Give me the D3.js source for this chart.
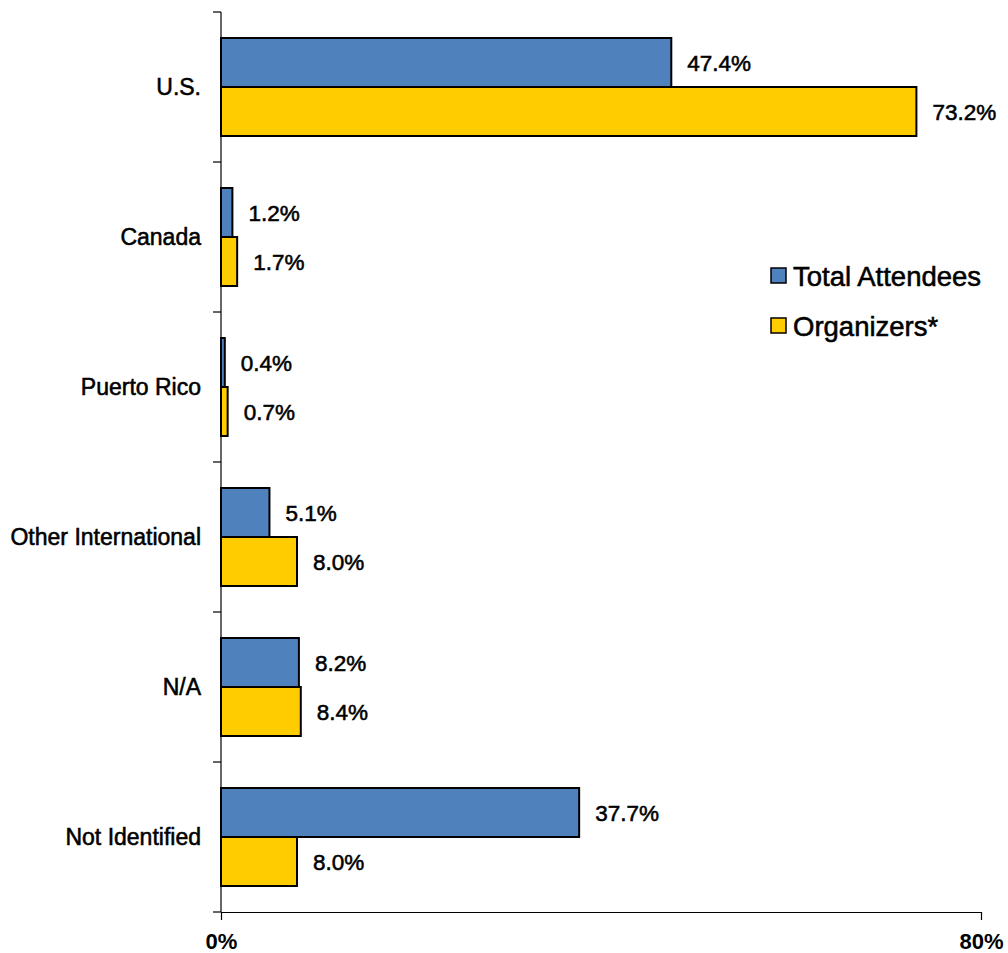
<!DOCTYPE html>
<html>
<head>
<meta charset="utf-8">
<script src="https://cdn.jsdelivr.net/npm/d3@7"></script>
<style>
  html, body { margin: 0; padding: 0; background: #fff; }
  svg { display: block; font-family: "Liberation Sans", Arial, sans-serif; }
  .lbl { stroke: #000; stroke-width: 0.55px; }
</style>
</head>
<body>
<svg id="chart" width="1008" height="953"></svg>
<script>
const categories = ["U.S.", "Canada", "Puerto Rico", "Other International", "N/A", "Not Identified"];
const seriesNames = ["Total Attendees", "Organizers*"];
const totalAttendees = [47.4, 1.2, 0.4, 5.1, 8.2, 37.7];
const organizers = [73.2, 1.7, 0.7, 8.0, 8.4, 8.0];
const xTickValues = [0, 80];
const seriesColors = ["#4F81BD", "#FFCC00"];

(function () {
  const svg = d3.select("#chart");
  const plotLeft = 221, plotRight = 981, plotTop = 12, plotBottom = 912;

  const x = d3.scaleLinear().domain([0, 80]).range([plotLeft, plotRight]);
  const y = d3.scaleBand().domain(categories).range([plotTop, plotBottom])
    .paddingInner(0.3467).paddingOuter(0.1733);
  const ySub = d3.scaleBand().domain(seriesNames).range([0, y.bandwidth()]);

  const seriesData = [totalAttendees, organizers];

  // bars and value labels
  seriesNames.forEach((name, si) => {
    const vals = seriesData[si];
    const rows = categories.map((c, i) => ({ c, v: vals[i] }));
    svg.append("g").selectAll("rect")
      .data(rows)
      .join("rect")
      .attr("x", x(0))
      .attr("y", d => y(d.c) + ySub(name))
      .attr("width", d => x(d.v) - x(0))
      .attr("height", ySub.bandwidth())
      .attr("fill", seriesColors[si])
      .attr("stroke", "#000")
      .attr("stroke-width", 2);

    svg.append("g").selectAll("text")
      .data(rows)
      .join("text")
      .attr("class", "lbl")
      .attr("x", d => x(d.v) + 16)
      .attr("y", d => y(d.c) + ySub(name) + ySub.bandwidth() / 2)
      .attr("dy", "0.36em")
      .attr("font-size", 22.5)
      .attr("fill", "#000")
      .text(d => d.v.toFixed(1) + "%");
  });

  // left axis with ticks at category boundaries
  const yAxisG = svg.append("g");
  yAxisG.append("line")
    .attr("x1", plotLeft).attr("x2", plotLeft)
    .attr("y1", plotTop).attr("y2", plotBottom)
    .attr("stroke", "#000").attr("stroke-width", 1.2);
  const boundaries = categories.map(c => y(c) - y.step() * y.paddingOuter())
    .concat([plotBottom]);
  yAxisG.selectAll("line.tick")
    .data(boundaries)
    .join("line")
    .attr("class", "tick")
    .attr("x1", plotLeft - 8).attr("x2", plotLeft)
    .attr("y1", d => d).attr("y2", d => d)
    .attr("stroke", "#000").attr("stroke-width", 1.2);
  yAxisG.selectAll("text")
    .data(categories)
    .join("text")
    .attr("class", "lbl")
    .attr("x", plotLeft - 20)
    .attr("y", d => y(d) + y.bandwidth() / 2)
    .attr("dy", "0.36em")
    .attr("text-anchor", "end")
    .attr("font-size", 23)
    .attr("fill", "#000")
    .text(d => d);

  // bottom axis
  const xAxis = d3.axisBottom(x)
    .tickValues(xTickValues)
    .tickFormat(d => d + "%")
    .tickSize(8)
    .tickSizeOuter(0)
    .tickPadding(13);
  const xg = svg.append("g")
    .attr("transform", `translate(0,${plotBottom})`)
    .call(xAxis);
  xg.select(".domain").attr("stroke", "#000").attr("stroke-width", 1.2);
  xg.selectAll(".tick line").attr("stroke", "#000").attr("stroke-width", 1.2);
  xg.selectAll(".tick text")
    .attr("font-size", 22)
    .attr("font-weight", "bold")
    .attr("font-family", "inherit")
    .attr("fill", "#000");

  // legend
  const legend = svg.append("g").attr("transform", "translate(771,266)");
  seriesNames.forEach((name, i) => {
    const g = legend.append("g").attr("transform", `translate(0,${i * 50})`);
    g.append("rect")
      .attr("x", 0).attr("y", 2)
      .attr("width", 15).attr("height", 15)
      .attr("fill", seriesColors[i])
      .attr("stroke", "#000")
      .attr("stroke-width", 1.5);
    g.append("text")
      .attr("class", "lbl")
      .attr("x", 22)
      .attr("y", 10)
      .attr("dy", "0.36em")
      .attr("font-size", 27.5)
      .attr("fill", "#000")
      .text(name);
  });
})();
</script>
</body>
</html>
